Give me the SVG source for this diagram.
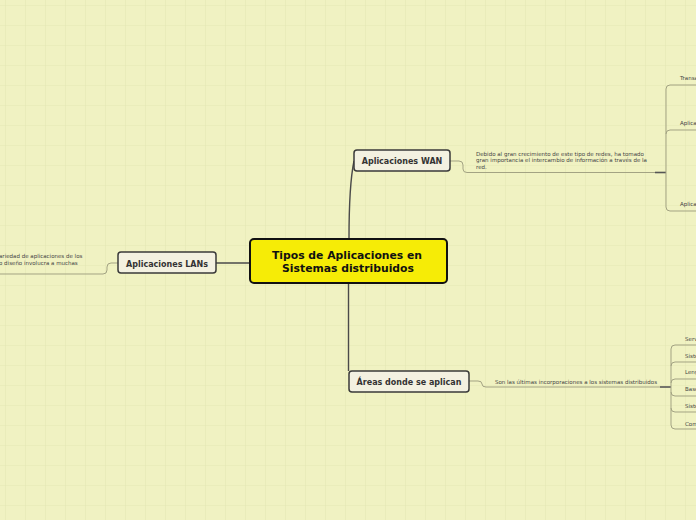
<svg xmlns="http://www.w3.org/2000/svg" width="696" height="520" viewBox="0 0 696 520">
<defs>
<pattern id="grid" x="5" y="5" width="20" height="20" patternUnits="userSpaceOnUse">
<path d="M0,0 H20 M0,0 V20" fill="none" stroke="#e4e7b4" stroke-width="1.2"/>
</pattern>
<style>
.node rect{fill:#f3f1e1;stroke:#3a3a3a;stroke-width:1.5}
.node text{font-family:"DejaVu Sans",sans-serif;font-weight:bold;font-size:8px;fill:#333;text-anchor:middle}
.center rect{fill:#f6ec06;stroke:#111;stroke-width:2}
.center text{font-family:"DejaVu Sans",sans-serif;font-weight:bold;font-size:10.8px;fill:#111;text-anchor:middle}
.lbl{font-family:"DejaVu Sans",sans-serif;font-size:5.5px;fill:#444}
.main{fill:none;stroke:#4a4a4a;stroke-width:1.4}
.sub{fill:none;stroke:#a3a383;stroke-width:1}
.dark{fill:none;stroke:#555;stroke-width:1.6}
</style>
</defs>
<rect width="696" height="520" fill="#f0f2c2"/>
<rect width="696" height="520" fill="url(#grid)"/>
<g id="connectors">
<path class="main" d="M349,239 C349,205 350,180 354,161"/>
<path class="main" d="M348.5,283 V371"/>
<path class="main" d="M250,263 H216"/>
<path class="sub" d="M450,161 H459 Q463,161 463,165 V169 Q463,172.5 467,172.5 H655"/>
<path class="dark" d="M655,172.5 H666"/>
<path class="sub" d="M696,85 H670 Q666,85 666,89 V207 Q666,211 670,211 H696"/>
<path class="sub" d="M666,134 Q666,130 670,130 H696"/>
<path class="sub" d="M468,381 H478 Q482,381 482,384 V384 Q482,387 486,387 H660"/>
<path class="dark" d="M660,387 H671"/>
<path class="sub" d="M696,345 H675 Q671,345 671,349 V425 Q671,429 675,429 H696"/>
<path class="sub" d="M671,366 Q671,362 675,362 H696"/>
<path class="sub" d="M671,383 Q671,379 675,379 H696"/>
<path class="sub" d="M671,392 Q671,396 675,396 H696"/>
<path class="sub" d="M671,408 Q671,412 675,412 H696"/>
<path class="sub" d="M118,263 H111 Q107,263 107,267 V270 Q107,274 103,274 H0"/>
</g>
<g id="center" class="center">
<rect x="250" y="239" width="197" height="44" rx="4"/>
<text x="347" y="258.5">Tipos de Aplicaciones en</text>
<text x="348" y="272">Sistemas distribuidos</text>
</g>
<g id="wan" class="node">
<rect x="354" y="150" width="96" height="21" rx="3"/>
<text x="402" y="164">Aplicaciones WAN</text>
</g>
<g id="wan-label">
<text class="lbl" x="476" y="155.5">Debido al gran crecimiento de este tipo de redes, ha tomado</text>
<text class="lbl" x="476" y="162">gran importancia el intercambio de información a través de la</text>
<text class="lbl" x="476" y="168.5">red.</text>
</g>
<g id="wan-1"><text class="lbl" x="680" y="80">Transacciones</text></g>
<g id="wan-2"><text class="lbl" x="680" y="125">Aplicaciones</text></g>
<g id="wan-3"><text class="lbl" x="680" y="206">Aplicaciones</text></g>
<g id="areas" class="node">
<rect x="349" y="371" width="120" height="21" rx="3"/>
<text x="409" y="385">Áreas donde se aplican</text>
</g>
<g id="areas-label">
<text class="lbl" x="495" y="383.5">Son las últimas incorporaciones a los sistemas distribuidos</text>
</g>
<g id="areas-1"><text class="lbl" x="685" y="340.5">Servicios</text></g>
<g id="areas-2"><text class="lbl" x="685" y="357.5">Sistemas</text></g>
<g id="areas-3"><text class="lbl" x="685" y="374">Lenguajes</text></g>
<g id="areas-4"><text class="lbl" x="685" y="391">Bases de datos</text></g>
<g id="areas-5"><text class="lbl" x="685" y="408">Sistemas</text></g>
<g id="areas-6"><text class="lbl" x="685" y="425.5">Comunicaciones</text></g>
<g id="lans" class="node">
<rect x="118" y="252" width="98" height="21" rx="3"/>
<text x="167" y="266.5">Aplicaciones LANs</text>
</g>
<g id="lans-label">
<text class="lbl" x="-1" y="258">ariedad de aplicaciones de los</text>
<text class="lbl" x="-1" y="264.5">o diseño involucra a muchas</text>
</g>
</svg>
